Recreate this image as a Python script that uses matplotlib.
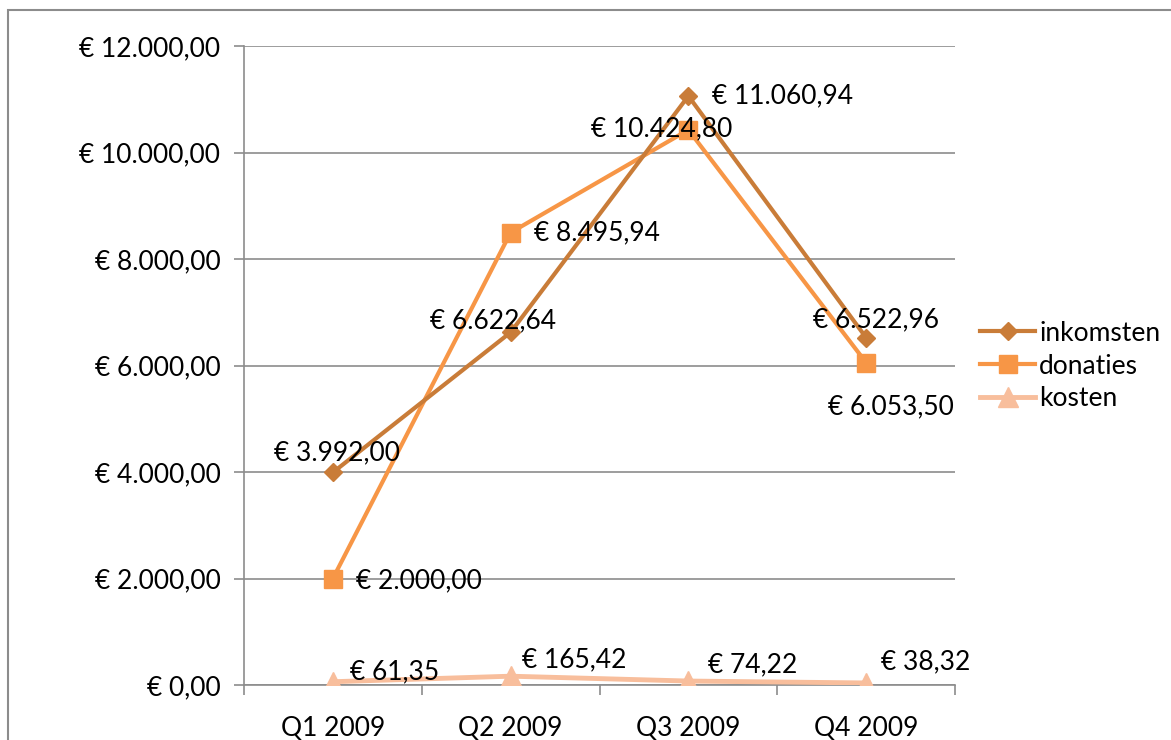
import numpy as np
import matplotlib
matplotlib.use("Agg")
import matplotlib.pyplot as plt
from matplotlib.ticker import FuncFormatter, FixedLocator
from matplotlib.patches import Rectangle

plt.rcParams['font.family'] = ['Lato', 'DejaVu Sans']

quarters = ['Q1 2009', 'Q2 2009', 'Q3 2009', 'Q4 2009']
inkomsten = [3992.00, 6622.64, 11060.94, 6522.96]
donaties = [2000.00, 8495.94, 10424.80, 6053.50]
kosten = [61.35, 165.42, 74.22, 38.32]

# label offsets in points (dx, dy, ha)
ink_off = [(3, 14, 'center'), (-13, 8, 'center'), (17, 0, 'left'), (7, 13, 'center')]
don_off = [(17, -2, 'left'), (17, 0, 'left'), (-19, 1, 'center'), (18, -32, 'center')]
kos_off = [(12, 7, 'left'), (8, 12, 'left'), (14, 12, 'left'), (11, 15, 'left')]

c_ink = '#C97C38'
c_don = '#F79646'
c_kos = '#F8BE9C'
grid_c = '#8C8C8C'


def euro(v, pos=None):
    s = f"{v:,.2f}".replace(',', 'X').replace('.', ',').replace('X', '.')
    return '\u20ac ' + s


fig = plt.figure(figsize=(11.71, 7.4), dpi=100)
ax = fig.add_axes([244 / 1171, 55 / 740, 711 / 1171, 639 / 740])

x = np.arange(len(quarters)) + 0.5
ax.plot(x, inkomsten, color=c_ink, lw=3, marker='D', ms=9, label='inkomsten', zorder=4)
ax.plot(x, donaties, color=c_don, lw=3, marker='s', ms=13, label='donaties', zorder=3)
ax.plot(x, kosten, color=c_kos, lw=3.5, marker='^', ms=14, label='kosten', zorder=3)

fs = 19
for vals, offs in ((inkomsten, ink_off), (donaties, don_off), (kosten, kos_off)):
    for xi, v, (dx, dy, ha) in zip(x, vals, offs):
        ax.annotate(euro(v), (xi, v), xytext=(dx, dy), textcoords='offset points',
                    ha=ha, va='center', fontsize=fs, color='black', zorder=6)

ax.set_xlim(0, 4)
ax.set_ylim(0, 12000)
ax.set_yticks(np.arange(0, 12001, 2000))
ax.yaxis.set_major_formatter(FuncFormatter(euro))
ax.grid(axis='y', color=grid_c, lw=1.2)
ax.set_axisbelow(True)

ax.xaxis.set_major_locator(FixedLocator([0, 1, 2, 3, 4]))
ax.xaxis.set_minor_locator(FixedLocator(list(x)))
ax.set_xticklabels([])
ax.set_xticklabels(quarters, minor=True)
ax.tick_params(axis='x', which='minor', length=0, labelsize=fs, pad=22)
ax.tick_params(axis='x', which='major', length=7, width=1.2, color=grid_c)
ax.tick_params(axis='y', length=7, width=1.2, color=grid_c, labelsize=fs, pad=10)

for side in ('top', 'right'):
    ax.spines[side].set_visible(False)
for side in ('left', 'bottom'):
    ax.spines[side].set_color(grid_c)
    ax.spines[side].set_linewidth(1.2)

leg = fig.legend(loc='center left', bbox_to_anchor=(980 / 1171, 1 - 366 / 740),
                 frameon=False, fontsize=fs, handlelength=2.1, handletextpad=0.15,
                 labelspacing=0.3, borderpad=0, borderaxespad=0)

fig.patches.append(Rectangle((8 / 1171, -0.1), 1.2, 1 - 10 / 740 + 0.1,
                             transform=fig.transFigure, fill=False,
                             edgecolor=grid_c, lw=1.5))

fig.savefig('out.png', dpi=100)
